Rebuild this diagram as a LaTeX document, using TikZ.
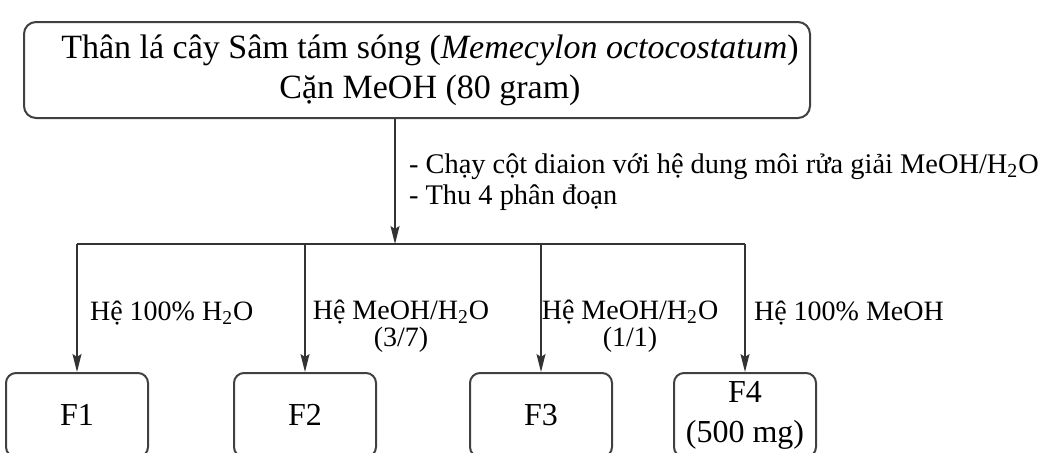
\documentclass[tikz,border=0pt]{standalone}
\usepackage{fontspec}
\setmainfont{Liberation Serif}
\usetikzlibrary{arrows.meta}
\begin{document}
\begin{tikzpicture}[
    x=0.5pt, y=-0.5pt,
    box/.style={draw=black!75, line width=1pt, rounded corners=6pt},
    fraction/.style={box, rounded corners=5pt, minimum width=71pt, minimum height=42pt, align=center, inner sep=0, font=\fontsize{16}{18.5}\selectfont},
    flow/.style={draw=black!80, line width=0.8pt, -{Stealth[length=9pt, width=4.5pt, inset=1.5pt]}},
    textnode/.style={align=center, font=\fontsize{14}{13.5}\selectfont}
    ]
    \clip (0,0) rectangle (1050,452);

    % Starting material
    \node[box, minimum width=393pt, minimum height=48pt] (src) at (417,70) {};
    \node[align=center, font=\fontsize{17}{20}\selectfont] (srctext) at (430,70)
        {Thân lá cây Sâm tám sóng (\textit{Memecylon octocostatum})\\ Cặn MeOH (80 gram)};

    % Fractions
    \node[fraction] (F1) at (77,415) {F1};
    \node[fraction] (F2) at (305,415) {F2};
    \node[fraction] (F3) at (541,415) {F3};
    \node[fraction] (F4) at (745,415) {F4\\[1.5pt](500 mg)};

    % Column step
    \coordinate (split) at (395,244);
    \draw[flow] (src.south -| split) -- (split);
    \node[textnode, align=left, anchor=west, font=\fontsize{14.2}{15.5}\selectfont] (step1) at (402,182)
        {- Chạy cột diaion với hệ dung môi rửa giải MeOH/H\textsubscript{2}O\\ - Thu 4 phân đoạn};

    % Branches
    \draw[draw=black!80, line width=0.8pt] (F1.north |- split) -- (F4.north |- split);
    \draw[flow] (F1.north |- split) -- (F1.north);
    \draw[flow] (F2.north |- split) -- (F2.north);
    \draw[flow] (F3.north |- split) -- (F3.north);
    \draw[flow] (F4.north |- split) -- (F4.north);

    % Eluent labels
    \node[textnode, anchor=west] (e1) at (83,313) {Hệ 100\% H\textsubscript{2}O};
    \node[textnode] (e2) at (401,326) {Hệ MeOH/H\textsubscript{2}O\\(3/7)};
    \node[textnode] (e3) at (630,326) {Hệ MeOH/H\textsubscript{2}O\\(1/1)};
    \node[textnode, anchor=west] (e4) at (747,313) {Hệ 100\% MeOH};

\end{tikzpicture}
\end{document}
